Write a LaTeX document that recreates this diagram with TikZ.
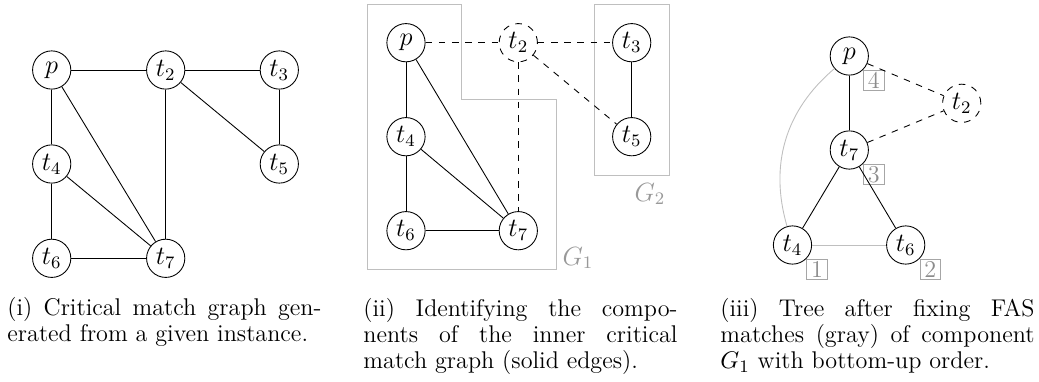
\documentclass[tikz,border=0pt]{standalone}
\usetikzlibrary{positioning}
\newlength{\captw}
\setlength{\captw}{142.9pt}
\begin{document}
\begin{tikzpicture}[x=0.455pt,y=-0.455pt,
  vtx/.style={circle,draw,minimum size=17.4pt,inner sep=0pt,font=\fontsize{12}{14}\selectfont},
  dvtx/.style={vtx,dashed},
  edge/.style={draw,line width=0.4pt},
  dedge/.style={draw,dashed,line width=0.4pt},
  fas/.style={draw,black!25,line width=0.4pt},
  comp/.style={draw,black!25,line width=0.4pt},
  glabel/.style={text=black!40,font=\fontsize{12}{14}\selectfont,inner sep=0pt},
  ord/.style={draw=black!35,text=black!45,minimum size=9.4pt,inner sep=0pt,font=\fontsize{11}{13}\selectfont},
  capt/.style={align=left,inner sep=0pt,anchor=north west,font=\fontsize{11}{11.83}\selectfont}
]
\useasboundingbox (0,0) rectangle (1039,381);

% ---------- panel (i)
\node[vtx] (Ap)  at (51.7,70)    {$p$};
\node[vtx] (At2) at (165.7,70)   {$t_2$};
\node[vtx] (At3) at (279.3,70)   {$t_3$};
\node[vtx] (At4) at (51.7,164)   {$t_4$};
\node[vtx] (At5) at (279.3,164)  {$t_5$};
\node[vtx] (At6) at (51.7,258.3) {$t_6$};
\node[vtx] (At7) at (165.7,258.3){$t_7$};
\draw[edge] (Ap) -- (At2);
\draw[edge] (At2) -- (At3);
\draw[edge] (At2) -- (At5);
\draw[edge] (At3) -- (At5);
\draw[edge] (Ap) -- (At4);
\draw[edge] (Ap) -- (At7);
\draw[edge] (At2) -- (At7);
\draw[edge] (At4) -- (At7);
\draw[edge] (At4) -- (At6);
\draw[edge] (At6) -- (At7);

% ---------- panel (ii)
\draw[comp] (367.3,4.7) -- (461.7,4.7) -- (461.7,99) -- (556.7,99) -- (556.7,269.3) -- (367.3,269.3) -- cycle;
\draw[comp] (594.3,4.7) rectangle (669.3,175);
\node[glabel] (G1) at (578,258) {$G_1$};
\node[glabel] (G2) at (650,194) {$G_2$};
\node[vtx]  (Bp)  at (406,42.7)    {$p$};
\node[dvtx] (Bt2) at (518.3,42.7)  {$t_2$};
\node[vtx]  (Bt3) at (631.7,42.7)  {$t_3$};
\node[vtx]  (Bt4) at (406,136.7)   {$t_4$};
\node[vtx]  (Bt5) at (631.7,136.7) {$t_5$};
\node[vtx]  (Bt6) at (406,230.7)   {$t_6$};
\node[vtx]  (Bt7) at (518.3,230.7) {$t_7$};
\draw[dedge] (Bp) -- (Bt2);
\draw[dedge] (Bt2) -- (Bt3);
\draw[dedge] (Bt2) -- (Bt5);
\draw[dedge] (Bt2) -- (Bt7);
\draw[edge] (Bt3) -- (Bt5);
\draw[edge] (Bp) -- (Bt4);
\draw[edge] (Bp) -- (Bt7);
\draw[edge] (Bt4) -- (Bt7);
\draw[edge] (Bt4) -- (Bt6);
\draw[edge] (Bt6) -- (Bt7);

% ---------- panel (iii)
\node[vtx]  (Cp)  at (849.3,56)   {$p$};
\node[dvtx] (Ct2) at (961.7,103.3){$t_2$};
\node[vtx]  (Ct7) at (849.3,150)  {$t_7$};
\node[vtx]  (Ct4) at (792.5,245)  {$t_4$};
\node[vtx]  (Ct6) at (905.7,245)  {$t_6$};
\node[ord,anchor=north west] (O4) at (Cp.south east)  {4};
\node[ord,anchor=north west] (O3) at (Ct7.south east) {3};
\node[ord,anchor=north west] (O1) at (Ct4.south east) {1};
\node[ord,anchor=north west] (O2) at (Ct6.south east) {2};
\draw[fas] (Cp) to[bend right=33] (Ct4);
\draw[fas] (Ct4) -- (Ct6);
\draw[edge] (Cp) -- (Ct7);
\draw[edge] (Ct7) -- (Ct4);
\draw[edge] (Ct7) -- (Ct6);
\draw[dedge] (Cp) -- (Ct2);
\draw[dedge] (Ct7) -- (Ct2);

% ---------- captions
\node[capt] (cap1) at (7,297) {\makebox[\captw][s]{(i) Critical match graph gen-}\\erated from a given instance.};
\node[capt] (cap2) at (363,298) {\makebox[\captw][s]{(ii) Identifying the compo-}\\\makebox[\captw][s]{nents of the inner critical}\\match graph (solid edges).};
\node[capt] (cap3) at (720,298) {\makebox[\captw][s]{(iii) Tree after fixing FAS}\\\makebox[\captw][s]{matches (gray) of component}\\$G_1$ with bottom-up order.};
\end{tikzpicture}
\end{document}
